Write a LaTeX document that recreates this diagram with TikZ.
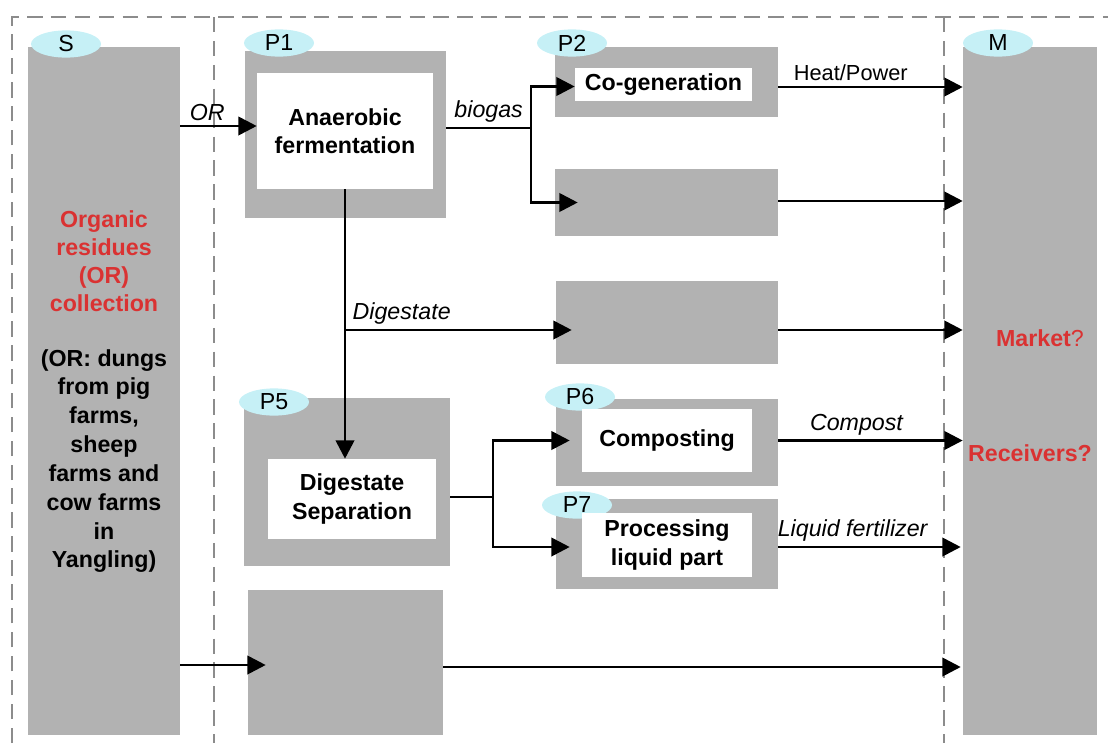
\documentclass[tikz,border=0pt]{standalone}
\usepackage{fontspec}
\setmainfont{Liberation Sans}
\usepackage{tikz}
\usetikzlibrary{arrows.meta,positioning,fit,calc,shapes.geometric}
\definecolor{boxgray}{RGB}{178,178,178}
\definecolor{tagcyan}{RGB}{198,240,246}
\definecolor{resred}{RGB}{218,50,50}
\definecolor{framegray}{RGB}{140,140,140}
\tikzstyle{stage}=[draw=none,fill=boxgray,inner sep=0pt]
\tikzstyle{inbox}=[fill=white,inner sep=0pt]
\tikzstyle{boxtxt}=[align=center,font=\bfseries\fontsize{16.5}{20}\selectfont]
\tikzstyle{tag}=[ellipse,fill=tagcyan,inner sep=0pt,minimum width=1.75cm,minimum height=0.68cm,font=\fontsize{16.5}{20}\selectfont]
\tikzstyle{flow}=[line width=2pt,-{Triangle[length=13pt,width=13pt]}]
\tikzstyle{plain}=[line width=2pt]
\tikzstyle{lbl}=[font=\itshape\fontsize{16.5}{20}\selectfont,inner sep=3pt]
\tikzstyle{border}=[draw=framegray,line width=1.6pt,dash pattern=on 11pt off 6pt]
\tikzstyle{redtxt}=[text=resred,align=center,font=\bfseries\fontsize{16.5}{20}\selectfont]

\begin{document}
\begin{tikzpicture}[x=0.025cm,y=-0.025cm]
\useasboundingbox (0,0) rectangle (1108,743);

% frame of the system
\draw[border] (12,743) -- (12,17) -- (1108,17);
\draw[border,line width=1.2pt] (214,17) -- (214,743);
\draw[border,line width=1.2pt] (944,17) -- (944,743);

% source and market
\node[stage,fit={(28,47) (180,735)}] (src) {};
\node[tag] (stag) at (66,44) {S};
\node[redtxt] (srctxt) at (104,261) {Organic\\residues\\(OR)\\collection};
\node[align=center,font=\bfseries\fontsize{16.5}{20.5}\selectfont] (srcnote) at (104,461)
  {(OR: dungs\\from pig\\farms,\\sheep\\farms and\\cow farms\\in\\Yangling)};
\node[stage,fit={(963,47) (1097,735)}] (mkt) {};
\node[tag] (mtag) at (998,43) {M};
\node[redtxt] (market) at (1040,338) {Market{\mdseries ?}};
\node[redtxt] (recv) at (1030,453) {Receivers?};

% processes
\node[stage,fit={(245,51) (446,218)}] (p1) {};
\node[tag] (p1tag) at (279,43) {P1};
\node[inbox,fit={(257,73) (433,189)}] (ferm) {};
\node[boxtxt] (fermtxt) at (ferm.center) {Anaerobic\\fermentation};

\node[stage,fit={(555,47) (778,117)}] (p2) {};
\node[tag] (p2tag) at (572,43) {P2};
\node[inbox,fit={(575,68) (752,101)}] (cogen) {};
\node[boxtxt] (cogentxt) at (cogen.center) {Co-generation};

\node[stage,fit={(555,169) (778,236)}] (p3) {};
\node[stage,fit={(556,281) (778,364)}] (p4) {};

\node[stage,fit={(244,398) (450,566)}] (p5) {};
\node[tag] (p5tag) at (274,402) {P5};
\node[inbox,fit={(268,459) (436,539)}] (sep) {};
\node[boxtxt] (septxt) at (sep.center) {Digestate\\Separation};

\node[stage,fit={(556,399) (778,486)}] (p6) {};
\node[tag] (p6tag) at (580,397) {P6};
\node[inbox,fit={(582,409) (752,472)}] (comp) {};
\node[boxtxt] (comptxt) at (comp.center) {Composting};

\node[stage,fit={(556,499) (778,589)}] (p7) {};
\node[tag] (p7tag) at (577,505) {P7};
\node[inbox,fit={(582,513) (752,577)}] (proc) {};
\node[boxtxt] (proctxt) at (proc.center) {Processing\\liquid part};

\node[stage,fit={(248,590) (443,735)}] (p8) {};

% flows
\coordinate (bsplit) at (531,128);
\coordinate (dsplit) at (345,330);
\coordinate (ssplit) at (493,497);

\draw[flow] (src.east |- 0,126) -- (ferm.west |- 0,126) node[lbl,midway,above,xshift=-8pt] {OR};
\draw[plain] (p1.east |- bsplit) -- (bsplit) node[lbl,midway,above] {biogas};
\draw[flow] (bsplit) |- ($(cogen.west)+(0,2)$);
\draw[flow] (bsplit) |- ($(p3.west)+(23,0)$);
\draw[flow] (p2.east |- 0,87) -- (mkt.west |- 0,87) node[midway,above,font=\fontsize{15.5}{18}\selectfont,xshift=-14pt] {Heat/Power};
\draw[flow] (p3.east |- 0,201) -- (mkt.west |- 0,201);

\draw[flow] (ferm.south -| dsplit) -- (sep.north -| dsplit);
\draw[flow] (dsplit) -- ($(p4.west |- dsplit)+(16,0)$) node[lbl,pos=0.25,above] {Digestate};
\draw[flow] (p4.east |- dsplit) -- (mkt.west |- dsplit);

\draw[plain] (p5.east |- ssplit) -- (ssplit);
\draw[flow] (ssplit) |- ($(comp.west)+(-12,0)$);
\draw[flow] (ssplit) |- ($(proc.west)+(-12,2)$);
\draw[flow] (p6.east |- comp.west) -- (mkt.west |- comp.west) node[lbl,midway,above,xshift=-10pt] {Compost};
\draw[flow] ($(p7.east |- proc.west)+(0,2)$) -- ($(mkt.west |- proc.west)+(-2,2)$) node[lbl,midway,above,xshift=-12pt] {Liquid fertilizer};

\draw[flow] (src.east |- 0,665) -- ($(p8.west |- 0,665)+(18,0)$);
\draw[flow] (p8.east |- 0,667) -- ($(mkt.west |- 0,667)+(-2,0)$);
\end{tikzpicture}
\end{document}
